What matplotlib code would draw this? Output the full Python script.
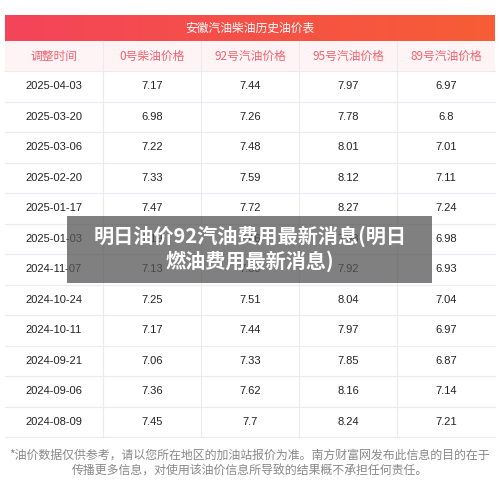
import matplotlib
matplotlib.use("Agg")
import matplotlib.pyplot as plt
import numpy as np
from matplotlib.patches import Rectangle

plt.rcParams['font.family'] = ['Noto Sans CJK SC', 'DejaVu Sans']

title = "安徽汽油柴油历史油价表"
headers = ["调整时间", "0号柴油价格", "92号汽油价格", "95号汽油价格", "89号汽油价格"]
dates = ["2025-04-03", "2025-03-20", "2025-03-06", "2025-02-20", "2025-01-17", "2025-01-03",
         "2024-11-07", "2024-10-24", "2024-10-11", "2024-09-21", "2024-09-06", "2024-08-09"]
diesel0 = ["7.17", "6.98", "7.22", "7.33", "7.47", "7.19", "7.13", "7.25", "7.17", "7.06", "7.36", "7.45"]
gas92 = ["7.44", "7.26", "7.48", "7.59", "7.72", "7.46", "7.39", "7.51", "7.44", "7.33", "7.62", "7.7"]
gas95 = ["7.97", "7.78", "8.01", "8.12", "8.27", "7.98", "7.92", "8.04", "7.97", "7.85", "8.16", "8.24"]
gas89 = ["6.97", "6.8", "7.01", "7.11", "7.24", "6.98", "6.93", "7.04", "6.97", "6.87", "7.14", "7.21"]
banner = "明日油价92汽油费用最新消息(明日\n燃油费用最新消息)"
footer = "*油价数据仅供参考，请以您所在地区的加油站报价为准。南方财富网发布此信息的目的在于\n传播更多信息，对使用该油价信息所导致的结果概不承担任何责任。"

fig = plt.figure(figsize=(5, 5), dpi=100)
ax = fig.add_axes([0, 0, 1, 1])
ax.set_xlim(0, 500)
ax.set_ylim(500, 0)
ax.axis("off")

x0, x1 = 5, 495
colw = (x1 - x0) / 5
# title band with gradient
grad = np.linspace(0, 1, 256).reshape(1, -1)
cmap = matplotlib.colors.LinearSegmentedColormap.from_list("g", ["#f4445a", "#f75d35"])
ax.imshow(grad, extent=[x0, x1, 41, 15], cmap=cmap, aspect="auto", zorder=1)
ax.text(250, 28, title, color="white", ha="center", va="center", fontsize=8.5, zorder=2)

# header row
ax.add_patch(Rectangle((x0, 41), x1 - x0, 30, facecolor="#fff4f5", edgecolor="none"))
for i, h in enumerate(headers):
    ax.text(x0 + colw * (i + 0.5), 56, h, color="#f0636f", ha="center", va="center", fontsize=8.5)

row_top = 71
rowh = (437 - row_top) / len(dates)
cols = [dates, diesel0, gas92, gas95, gas89]
for r in range(len(dates)):
    y = row_top + rowh * r
    ax.plot([x0, x1], [y, y], color="#ebeaf0", lw=0.8)
    for c in range(5):
        ax.text(x0 + colw * (c + 0.5), y + rowh / 2, cols[c][r], color="#222222",
                ha="center", va="center", fontsize=8, family=["Liberation Sans", "DejaVu Sans"])
ax.plot([x0, x1], [437, 437], color="#ebeaf0", lw=0.8)
for c in range(1, 5):
    xx = x0 + colw * c
    ax.plot([xx, xx], [41, 437], color="#ebeaf0", lw=0.8)

ax.text(250, 463, footer, color="#888888", ha="center", va="center", fontsize=8.6, linespacing=1.3)

# overlay banner
ax.add_patch(Rectangle((67, 216), 365, 67, facecolor="#555555", alpha=0.75, edgecolor="none", zorder=5))
ax.text(250, 249, banner, color="white", ha="center", va="center", fontsize=14.5,
        fontweight="bold", linespacing=1.2, zorder=6)

fig.savefig("out.png", dpi=100)
